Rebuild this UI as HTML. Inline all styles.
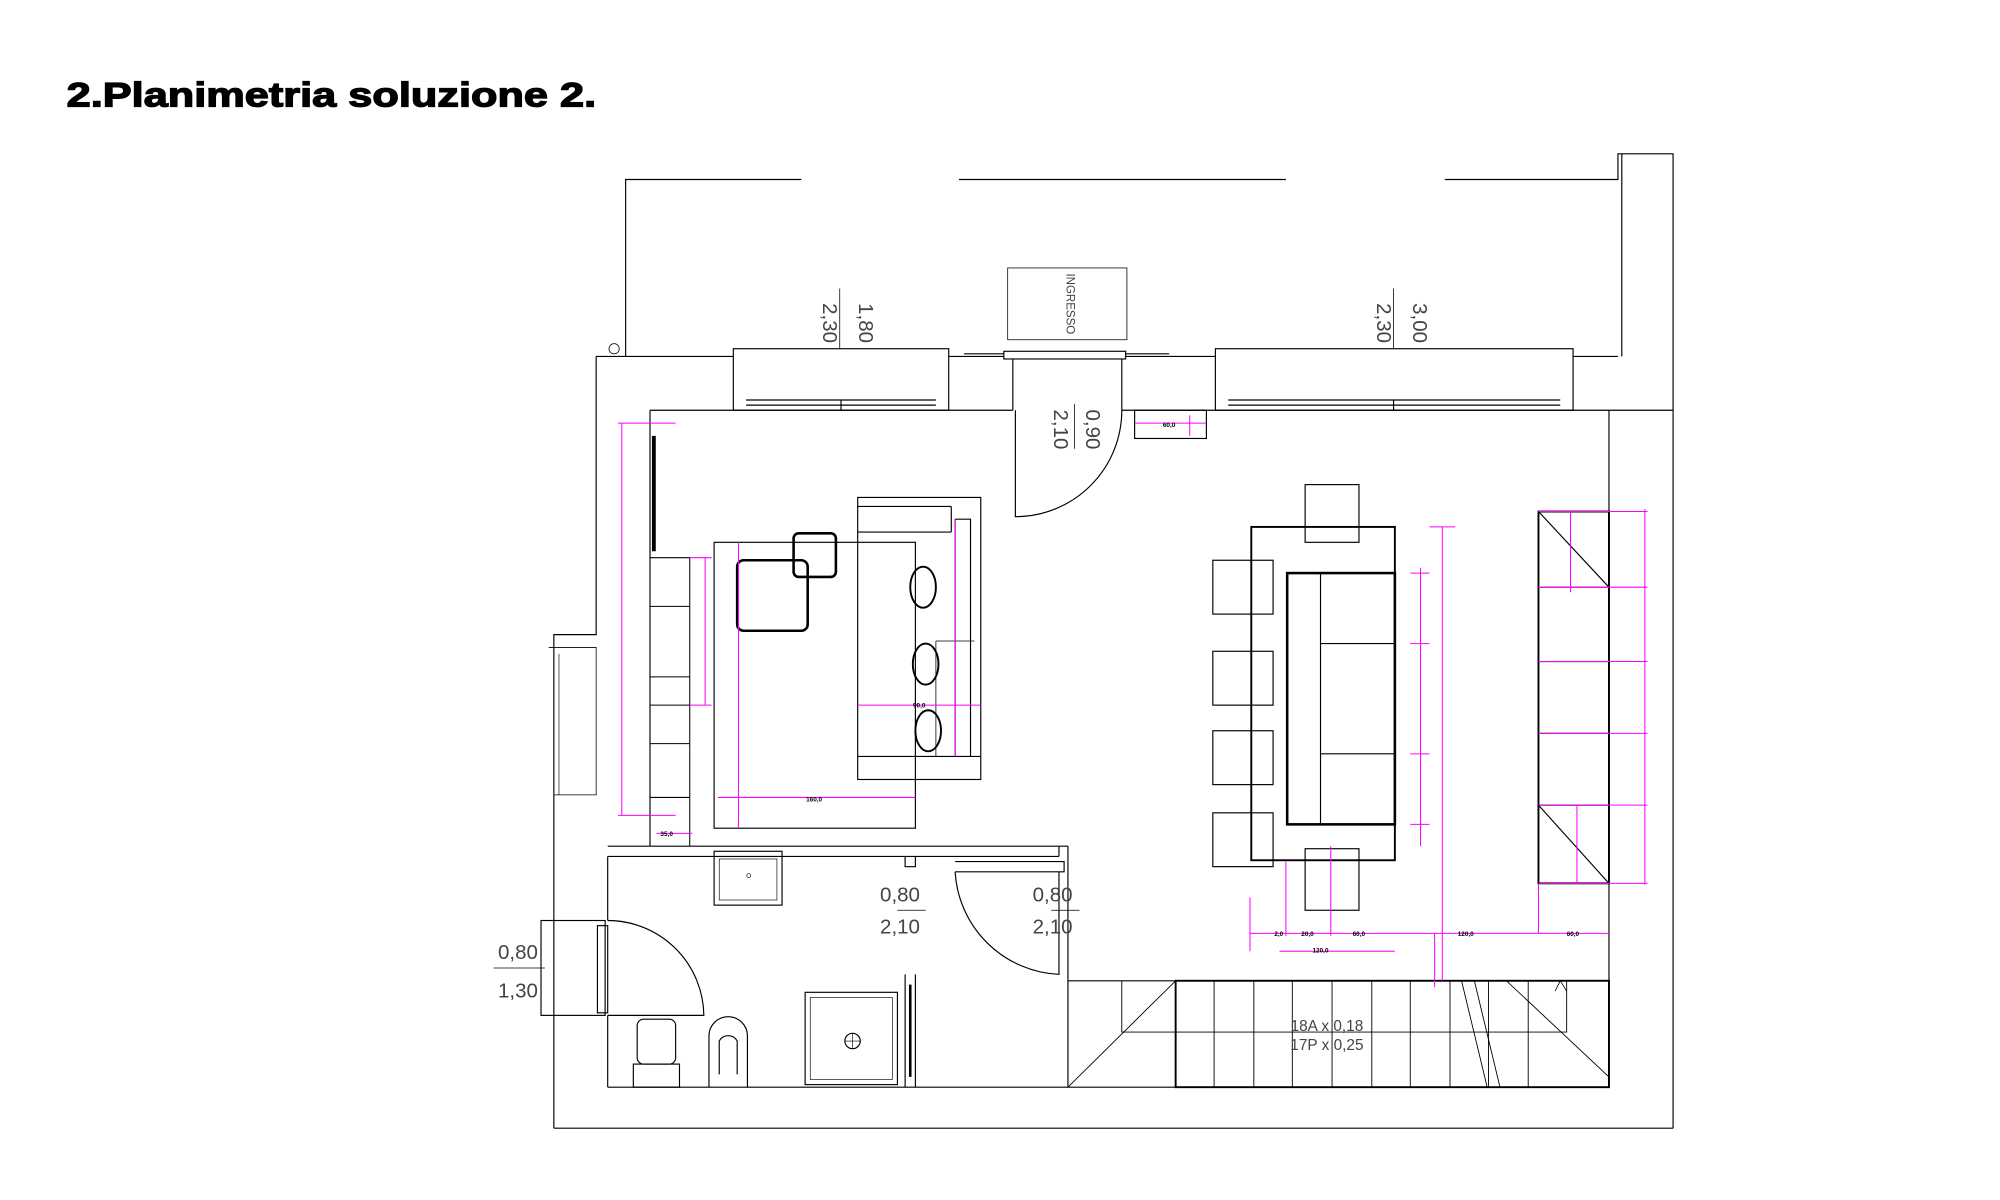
<!DOCTYPE html>
<html><head><meta charset="utf-8"><style>
html,body{margin:0;padding:0;background:#fff;width:2000px;height:1200px;overflow:hidden}
svg{display:block}
text{font-family:"Liberation Sans",sans-serif}
</style></head><body>
<svg width="2000" height="1200" viewBox="0 0 1560 936" xmlns="http://www.w3.org/2000/svg">
<text x="52" y="83" font-size="27" font-weight="bold" fill="#000" stroke="#000" stroke-width="1" textLength="413" lengthAdjust="spacingAndGlyphs">2.Planimetria soluzione 2.</text>
<g fill="none" stroke="#000" stroke-width="0.9">
<path d="M488 278V140H625M748 140H1003M1127 140H1262V120H1305V880"/>
<path d="M1265 120V278"/>
<circle cx="479" cy="272" r="4" stroke-width="0.6"/>
<path d="M465 278H572M740 278H783M878 278H948M1227 278H1262"/>
<rect x="572" y="272" width="168" height="48"/>
<rect x="948" y="272" width="279" height="48"/>
<path d="M582 312H730M582 316H730M958 312H1217M958 316H1217M656 312V320M1087 312V320"/>
<rect x="783" y="274" width="95" height="6"/>
<path d="M752 276H783M878 276H912"/>
<path d="M790 280V320M875 280V320"/>
<path d="M507 320H790M875 320H1305"/>
<path d="M465 278V495H432V880"/>
<path d="M428 505H465V620H432" stroke-width="0.6"/>
<path d="M436 510V620" stroke-width="0.5"/>
<path d="M507 320V660"/>
<path d="M510 340V430" stroke-width="3"/>
<path d="M474 660H833M474 668H826M826 660V668M833 660V848"/>
<path d="M474 668V718M474 792V848"/>
<rect x="422" y="718" width="50" height="74"/>
<rect x="466" y="722" width="8" height="68"/>
<path d="M474 718A75 75 0 0 1 549 792H474"/>
<path d="M474 848H1255M432 880H1305"/>
<path d="M1255 320V848"/>
<path d="M706 668V676H714V668M706 760V848M714 760V848"/>
<path d="M710 768V840" stroke-width="2"/>
<path d="M792 320V403A83 83 0 0 0 875 320"/>
<path d="M745 672H830V680H745"/>
<path d="M826 680V760A85 85 0 0 1 745 680"/>
<rect x="557" y="664" width="53" height="42"/>
<rect x="561" y="670" width="45" height="32" stroke-width="0.5"/>
<circle cx="584" cy="683" r="1.5" stroke-width="0.5"/>
<rect x="497" y="795" width="30" height="35" rx="5"/>
<rect x="494" y="830" width="36" height="18"/>
<path d="M553 848V808A15 15 0 0 1 583 808V848M561 838V812A8 8 0 0 1 575 812V838"/>
<rect x="628" y="774" width="72" height="72"/>
<rect x="632" y="778" width="64" height="64" stroke-width="0.5"/>
<circle cx="665" cy="812" r="6"/><path d="M659 812H671M665 806V818" stroke-width="0.5"/>
<rect x="557" y="423" width="157" height="223"/>
<rect x="575" y="437" width="55" height="55" rx="5" stroke-width="2"/>
<rect x="619" y="416" width="33" height="34" rx="4" stroke-width="2"/>
<rect x="669" y="388" width="96" height="220"/>
<path d="M669 415H742M742 395V415M669 395H742M745 405H757V590H745M745 405V590M669 590H765"/>
<path d="M730 500H760M730 500V590" stroke-width="0.6"/>
<ellipse cx="720" cy="458" rx="10" ry="16" stroke-width="1.5"/>
<ellipse cx="722" cy="518" rx="10" ry="16" stroke-width="1.5"/>
<ellipse cx="724" cy="570" rx="10" ry="16" stroke-width="1.5"/>
<path d="M507 435H538V660M507 473H538M507 528H538M507 580H538M507 622H538M507 550H538" stroke-width="0.8"/>
<rect x="976" y="411" width="112" height="260" stroke-width="1.5"/>
<rect x="1004" y="447" width="84" height="196" stroke-width="2"/>
<path d="M1030 447V643M1030 502H1088M1030 588H1088"/>
<rect x="1018" y="378" width="42" height="45"/>
<rect x="1018" y="662" width="42" height="48"/>
<rect x="946" y="437" width="47" height="42"/>
<rect x="946" y="508" width="47" height="42"/>
<rect x="946" y="570" width="47" height="42"/>
<rect x="946" y="634" width="47" height="42"/>
<rect x="1200" y="399" width="55" height="290" stroke-width="1.5"/>
<path d="M1200 458H1255M1200 516H1255M1200 572H1255M1200 628H1255M1200 399L1255 458M1200 628L1255 689"/>
<rect x="885" y="320" width="56" height="22"/>
<path d="M833 765H1255"/>
<rect x="917" y="765" width="338" height="83" stroke-width="1.5"/>
<path d="M947 765V848M978 765V848M1008 765V848M1039 765V848M1070 765V848M1100 765V848M1131 765V848M1161 765V848M1192 765V848" stroke-width="0.7"/>
<path d="M875 765V805H1222V765M833 848L917 765M1175 765L1255 840M1140 765L1160 848M1150 765L1170 848" stroke-width="0.7"/>
<path d="M1213 773L1217 765L1222 773" stroke-width="0.6"/>
<rect x="786" y="209" width="93" height="56" stroke-width="0.6"/>
<path d="M655 225V272M1087 225V272M838 315V350M700 710H722M820 710H842" stroke-width="0.6"/>
<path d="M385 755H425" stroke-width="0.6"/>
</g>
<g fill="#444" font-size="16">
<text transform="translate(670,252) rotate(90)" text-anchor="middle">1,80</text>
<text transform="translate(642,252) rotate(90)" text-anchor="middle">2,30</text>
<text transform="translate(1102,252) rotate(90)" text-anchor="middle">3,00</text>
<text transform="translate(1074,252) rotate(90)" text-anchor="middle">2,30</text>
<text transform="translate(847,335) rotate(90)" text-anchor="middle">0,90</text>
<text transform="translate(822,335) rotate(90)" text-anchor="middle">2,10</text>
<text transform="translate(832,237) rotate(90)" text-anchor="middle" font-size="9">INGRESSO</text>
<text x="702" y="703" text-anchor="middle">0,80</text><text x="702" y="728" text-anchor="middle">2,10</text>
<text x="821" y="703" text-anchor="middle">0,80</text><text x="821" y="728" text-anchor="middle">2,10</text>
<text x="404" y="748" text-anchor="middle">0,80</text><text x="404" y="778" text-anchor="middle">1,30</text>
<text x="1035" y="804" text-anchor="middle" font-size="12">18A x 0,18</text>
<text x="1035" y="819" text-anchor="middle" font-size="12">17P x 0,25</text>
</g>
<g stroke="#f0f" stroke-width="0.8" fill="none">
<path d="M482 330H527M482 636H527M485 330V636"/>
<path d="M538 435H555M538 550H555M550 435V550"/>
<path d="M512 650H540"/>
<path d="M576 423V646M560 622H714"/>
<path d="M745 405V590M669 550H765"/>
<path d="M1108 443V660M1100 447H1115M1100 502H1115M1100 588H1115M1100 643H1115"/>
<path d="M1125 411V765M1115 411H1135"/>
<path d="M975 700V742M975 728H1255M998 742H1088M1003 672V730M1038 730V660M1119 728V770M1200 690V728"/>
<path d="M1283 397V690M1200 399H1285M1200 458H1285M1200 516H1285M1200 572H1285M1200 628H1285M1200 689H1285M1225 399V462M1230 628V689"/>
<path d="M885 330H941M928 324V340"/>
</g>
<g fill="#000" font-size="5" font-weight="bold">
<text x="635" y="625" text-anchor="middle">160,0</text>
<text x="520" y="652" text-anchor="middle">35,0</text>
<text x="717" y="552" text-anchor="middle">90,0</text>
<text x="1030" y="743" text-anchor="middle">120,0</text>
<text x="994" y="730">2,0</text><text x="1015" y="730">20,0</text><text x="1055" y="730">60,0</text>
<text x="1137" y="730">120,0</text><text x="1222" y="730">60,0</text>
<text x="907" y="333">60,0</text>
</g>
</svg>
</body></html>
